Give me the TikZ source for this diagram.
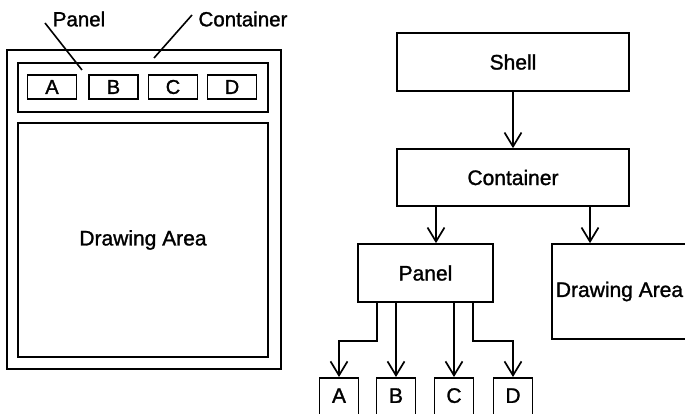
\documentclass[tikz,border=0pt]{standalone}
\usepackage{fontspec}
\setmainfont{Liberation Sans}[FakeBold=1.3]
\usetikzlibrary{arrows.meta}
\begin{document}
\begin{tikzpicture}[x=1pt,y=-1pt,
  box/.style={draw, line width=1.7pt, inner sep=0pt, font=\fontsize{21}{25}\selectfont},
  btn/.style={box, minimum width=49pt, minimum height=24pt, font=\fontsize{20}{24}\selectfont},
  leaf/.style={box, anchor=north, minimum width=39pt, text height=25pt, text depth=30pt},
  lbl/.style={inner sep=0pt, font=\fontsize{20.5}{24}\selectfont},
  lead/.style={line width=1.6pt},
  link/.style={line width=1.8pt, -{Straight Barb[length=14pt,width=17pt,line width=1.7pt]}}]
\useasboundingbox (0,0) rectangle (685,414);
\clip (0,0) rectangle (685,414);

% ---- window layout ----
\node[box, minimum width=274pt, minimum height=319pt] (win) at (144,209.5) {};
\node[box, minimum width=250pt, minimum height=49pt] (bar) at (143,87.5) {};
\node[btn] (ba) at (52,87) {A};
\node[btn] (bb) at (113.5,87) {B};
\node[btn] (bc) at (173,87) {C};
\node[btn] (bd) at (232,87) {D};
\node[box, minimum width=250pt, minimum height=234pt] (area) at (143,240) {Drawing Area};

\node[lbl] (lpanel) at (79,19) {Panel};
\node[lbl] (lcont) at (243,19) {Container};
\coordinate (lpanelfoot) at (45,23);
\coordinate (lpaneltip) at (82,70);
\coordinate (lcontfoot) at (192,15);
\coordinate (lconttip) at (154,58);
\draw[lead] (lpanelfoot) -- (lpaneltip);
\draw[lead] (lcontfoot) -- (lconttip);

% ---- widget tree ----
\node[box, minimum width=232pt, minimum height=58pt] (shell) at (513,62) {Shell};
\node[box, minimum width=232pt, minimum height=57pt] (cont) at (513,177.5) {Container};
\node[box, minimum width=135pt, minimum height=58pt] (pnl) at (425.5,273) {Panel};
\node[box, minimum width=135pt, minimum height=95pt] (darea) at (619.5,291.5) {Drawing Area};
\node[leaf] (a) at (339,377) {A};
\node[leaf] (b) at (396,377) {B};
\node[leaf] (c) at (454,377) {C};
\node[leaf] (d) at (513,377) {D};

\draw[link] (shell.south) -- (cont.north);
\draw[link] ([xshift=10.5pt]pnl.north |- cont.south) -- ([xshift=10.5pt]pnl.north);
\draw[link] ([xshift=-29.5pt]darea.north |- cont.south) -- ([xshift=-29.5pt]darea.north);
\draw[link] ([xshift=-48.5pt]pnl.south) -- ++(0,38) -| (a.north);
\draw[link] (b.north |- pnl.south) -- (b.north);
\draw[link] (c.north |- pnl.south) -- (c.north);
\draw[link] ([xshift=47.5pt]pnl.south) -- ++(0,38) -| (d.north);
\end{tikzpicture}
\end{document}
